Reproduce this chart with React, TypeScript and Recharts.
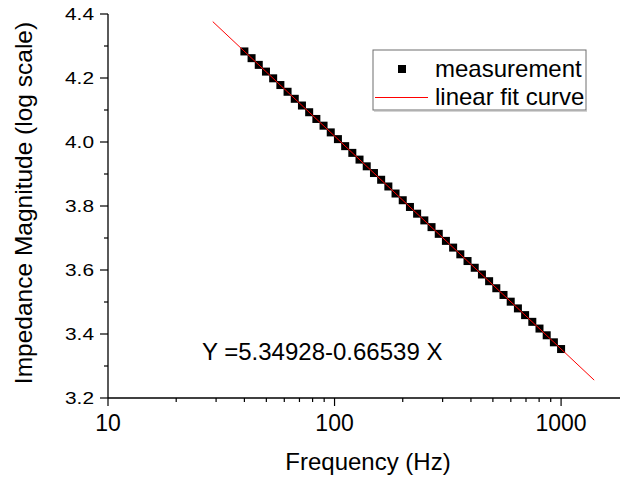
import React from 'react';
import { ScatterChart, Scatter, XAxis, YAxis } from 'recharts';

// Measured frequencies (Hz) and log-scale impedance magnitude
const freqHz = [
  40, 43.03, 46.29, 49.81, 53.59, 57.66, 62.03, 66.74, 71.8, 77.27,
  83.13, 89.43, 96.22, 103.5, 111.4, 119.8, 128.9, 138.7, 149.3, 160.6,
  172.8, 185.9, 200, 215.2, 231.5, 249.1, 268, 288.4, 310.2, 333.8,
  359.1, 386.4, 415.7, 447.3, 481.2, 517.7, 557, 599.3, 644.8, 693.7,
  746.4, 803, 864, 929.5, 1000,
];
const impedanceLog = [
  4.283, 4.262, 4.241, 4.22, 4.199, 4.178, 4.157, 4.135, 4.114, 4.093,
  4.072, 4.051, 4.03, 4.009, 3.987, 3.966, 3.945, 3.924, 3.903, 3.882,
  3.861, 3.839, 3.818, 3.797, 3.776, 3.755, 3.734, 3.713, 3.691, 3.67,
  3.649, 3.628, 3.607, 3.586, 3.565, 3.543, 3.522, 3.501, 3.48, 3.459,
  3.438, 3.417, 3.396, 3.374, 3.353,
];

// Linear fit curve end points
const fitFreqHz = [29, 1400];
const fitImpedance = [4.3762, 3.2559];

const xTicks = [10, 20, 30, 40, 50, 60, 70, 80, 90, 100, 200, 300, 400, 500, 600, 700, 800, 900, 1000];
const xLabelTicks = [10, 100, 1000];
const yTicks = [3.2, 3.3, 3.4, 3.5, 3.6, 3.7, 3.8, 3.9, 4.0, 4.1, 4.2, 4.3, 4.4];

const xTitle = 'Frequency (Hz)';
const yTitle = 'Impedance Magnitude (log scale)';
const equationText = 'Y =5.34928-0.66539 X';
const legendNames = ['measurement', 'linear fit curve'];

const measurement = freqHz.map((f, i) => ({ f, y: impedanceLog[i] }));
const fit = fitFreqHz.map((f, i) => ({ f, y: fitImpedance[i] }));

const FONT = '"Liberation Sans", Arial, Helvetica, sans-serif';

const XTick = (props: any) => {
  const { x, y, payload } = props;
  const v = payload.value;
  const major = xLabelTicks.includes(v);
  return (
    <g>
      <line x1={x} x2={x} y1={y} y2={y + (major ? 8 : 4)} stroke="#000" strokeWidth={1.2} />
      {major && (
        <text x={x} y={y + 33} textAnchor="middle" fontSize={23} fontFamily={FONT} fill="#000">
          {String(v)}
        </text>
      )}
    </g>
  );
};

const YTick = (props: any) => {
  const { x, y, payload } = props;
  const v = payload.value as number;
  const major = Math.round(v * 10) % 2 === 0;
  return (
    <g>
      <line x1={x - (major ? 8 : 4)} x2={x} y1={y} y2={y} stroke="#000" strokeWidth={1.2} />
      {major && (
        <text
          x={x - 14}
          y={y + 6}
          textAnchor="end"
          fontSize={17}
          fontFamily={FONT}
          fill="#000"
          textLength={29}
          lengthAdjust="spacingAndGlyphs"
        >
          {v.toFixed(1)}
        </text>
      )}
    </g>
  );
};

const SquareShape = (props: any) => {
  const { cx, cy } = props;
  if (cx == null || cy == null) return <g />;
  return <rect x={cx - 4} y={cy - 4} width={8} height={8} fill="#000" />;
};

const EmptyShape = () => <g />;

export default function App() {
  return (
    <div style={{ position: 'absolute', left: 0, top: 0, width: 621, height: 479, background: '#fff' }}>
      <ScatterChart width={621} height={479} margin={{ top: 14, right: 1, bottom: 0, left: 0 }}>
        <XAxis
          dataKey="f"
          type="number"
          scale="log"
          domain={[10, 1820]}
          allowDataOverflow
          ticks={xTicks}
          interval={0}
          height={81}
          tickSize={0}
          tickMargin={0}
          tickLine={false}
          axisLine={{ stroke: '#000', strokeWidth: 1.3 }}
          tick={<XTick />}
        />
        <YAxis
          dataKey="y"
          type="number"
          domain={[3.2, 4.4]}
          allowDataOverflow
          ticks={yTicks}
          interval={0}
          width={108}
          tickSize={0}
          tickMargin={0}
          tickLine={false}
          axisLine={{ stroke: '#000', strokeWidth: 1.3 }}
          tick={<YTick />}
        />
        <Scatter data={measurement} fill="#000" shape={<SquareShape />} isAnimationActive={false} />
        <Scatter
          data={fit}
          line={{ stroke: '#ff0000', strokeWidth: 1 }}
          shape={<EmptyShape />}
          isAnimationActive={false}
        />
      </ScatterChart>
      <svg
        width={621}
        height={479}
        style={{ position: 'absolute', left: 0, top: 0, pointerEvents: 'none' }}
      >
        <text
          x={32}
          y={203}
          transform="rotate(-90, 32, 203)"
          textAnchor="middle"
          fontSize={24.5}
          fontFamily={FONT}
          fill="#000"
        >
          {yTitle}
        </text>
        <text x={368} y={470} textAnchor="middle" fontSize={24} fontFamily={FONT} fill="#000">
          {xTitle}
        </text>
        <text x={202} y={360} textAnchor="start" fontSize={24} fontFamily={FONT} fill="#000">
          {equationText}
        </text>
        <rect x={373} y={50} width={213} height={60} fill="#fff" stroke="#6e6e6e" strokeWidth={1} />
        <line x1={374} x2={587} y1={111} y2={111} stroke="#aaa" strokeWidth={1} />
        <rect x={398} y={65} width={8} height={8} fill="#000" />
        <text x={435} y={77} fontSize={24} fontFamily={FONT} fill="#000">
          {legendNames[0]}
        </text>
        <line x1={375} x2={428} y1={97.5} y2={97.5} stroke="#ff0000" strokeWidth={1} />
        <text x={435} y={105} fontSize={24} fontFamily={FONT} fill="#000">
          {legendNames[1]}
        </text>
      </svg>
    </div>
  );
}
